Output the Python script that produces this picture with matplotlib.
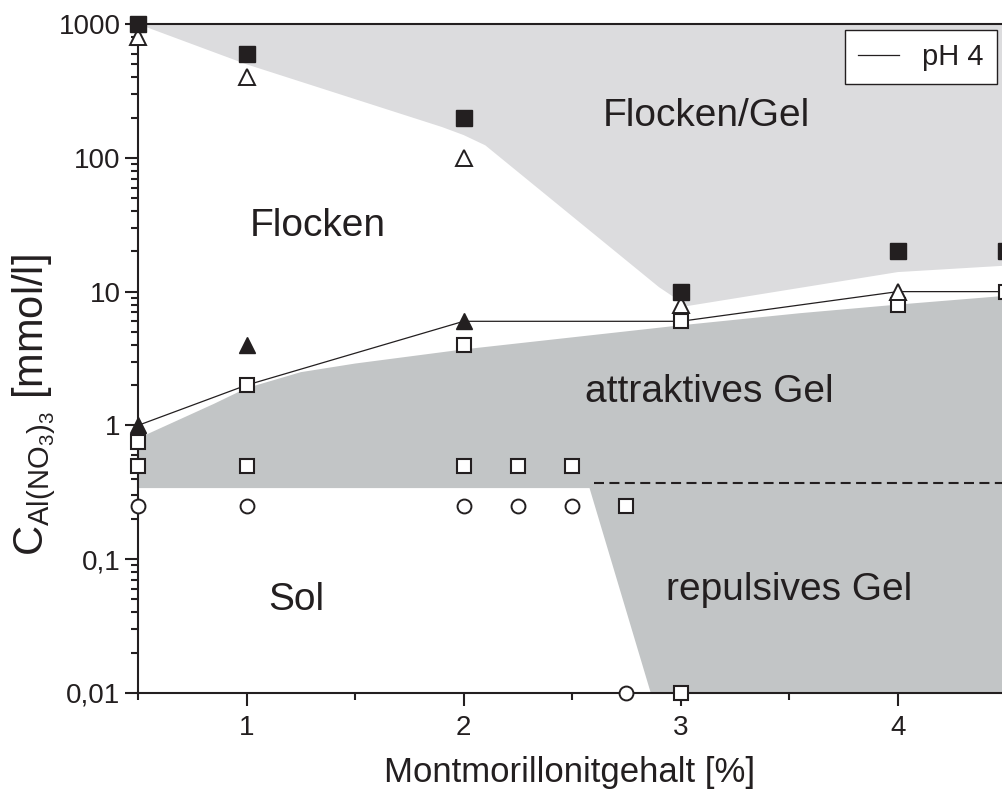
import matplotlib.pyplot as plt
from matplotlib.patches import Polygon
from matplotlib.ticker import FixedLocator, NullFormatter, LogLocator

plt.rcParams["font.family"] = ["Liberation Sans", "DejaVu Sans"]
plt.rcParams["mathtext.fontset"] = "custom"
plt.rcParams["mathtext.rm"] = "Liberation Sans"
plt.rcParams["mathtext.it"] = "Liberation Sans:italic"

ink = "#231f20"
light_gray = "#dcdcde"
dark_gray = "#c2c5c6"

# --- measured series (Montmorillonit %, Al(NO3)3 mmol/l) ---
sq_fill_x = [0.5, 1, 2, 3, 4, 4.5]
sq_fill_y = [1000, 600, 200, 10, 20, 20]
tri_open_x = [0.5, 1, 2, 3, 4]
tri_open_y = [800, 400, 100, 8, 10]
tri_fill_x = [0.5, 1, 2]
tri_fill_y = [1, 4, 6]
sq_open_x = [0.5, 0.5, 1, 1, 2, 2, 2.25, 2.5, 2.75, 3, 3, 4, 4.5]
sq_open_y = [0.75, 0.5, 2, 0.5, 4, 0.5, 0.5, 0.5, 0.25, 6, 0.01, 8, 10]
circ_x = [0.5, 1, 2, 2.25, 2.5, 2.75]
circ_y = [0.25, 0.25, 0.25, 0.25, 0.25, 0.01]

# pH 4 boundary line
ph4_x = [0.5, 1, 2, 3, 4, 4.5]
ph4_y = [1, 2, 6, 6, 10, 10]

# phase regions
floc_gel_x = [0.5, 1.0, 1.7, 1.9, 2.0, 2.1, 2.9, 3.03, 4.0, 4.6, 4.6]
floc_gel_y = [1000, 500, 216, 170, 148, 124, 10.8, 7.8, 14, 16, 1000]
gel_x = [0.5, 0.85, 1.0, 1.25, 1.5, 2.0, 3.0, 3.55, 4.0, 4.6, 4.6, 2.88, 2.58, 0.5]
gel_y = [0.8, 1.45, 1.9, 2.5, 2.9, 3.7, 5.6, 6.9, 8.0, 9.6, 0.008, 0.008, 0.34, 0.34]
split_x = [2.6, 4.6]
split_y = [0.37, 0.37]

y_ticks = [0.01, 0.1, 1, 10, 100, 1000]
y_labels = ["0,01", "0,1", "1", "10", "100", "1000"]
x_ticks = [1, 2, 3, 4]
x_minor = [0.5, 1.5, 2.5, 3.5, 4.5]

fig = plt.figure(figsize=(10.02, 7.96), dpi=100)
ax = fig.add_axes([0.1377, 0.1294, 0.8623, 0.8404])
ax.set_yscale("log")
ax.set_xlim(0.5, 4.48)
ax.set_ylim(0.01, 1000)

ax.add_patch(Polygon(list(zip(floc_gel_x, floc_gel_y)), closed=True,
                     facecolor=light_gray, edgecolor="none", zorder=0))
ax.add_patch(Polygon(list(zip(gel_x, gel_y)), closed=True,
                     facecolor=dark_gray, edgecolor="none", zorder=0))
ax.plot(split_x, split_y, color=ink, lw=1.5, ls=(0, (4.8, 2.6)), zorder=1)

ax.plot(ph4_x, ph4_y, color=ink, lw=0.9, label="pH 4", zorder=2)

mk = dict(ls="none", clip_on=False, zorder=4, color=ink)
ax.plot(sq_open_x, sq_open_y, marker="s", ms=10.5, mfc="white", mec=ink, mew=1.5, **mk)
ax.plot(circ_x, circ_y, marker="o", ms=10, mfc="white", mec=ink, mew=1.4, **mk)
ax.plot(tri_open_x, tri_open_y, marker="^", ms=12, mfc="white", mec=ink, mew=1.4, **mk)
ax.plot(tri_fill_x, tri_fill_y, marker="^", ms=12, mfc=ink, mec=ink, mew=1.0, **mk)
ax.plot(sq_fill_x, sq_fill_y, marker="s", ms=11, mfc=ink, mec=ink, mew=1.0, **mk)

# region names
txt = dict(fontsize=28, color=ink, ha="center", va="center")
ax.text(3.12, 205, "Flocken/Gel", **txt)
ax.text(1.33, 31, "Flocken", **txt)
ax.text(3.13, 1.78, "attraktives Gel", **txt)
ax.text(1.23, 0.0495, "Sol", **txt)
ax.text(3.5, 0.059, "repulsives Gel", **txt)

ax.yaxis.set_major_locator(FixedLocator(y_ticks))
ax.set_yticklabels(y_labels)
ax.yaxis.set_minor_locator(LogLocator(base=10, subs=range(2, 10)))
ax.yaxis.set_minor_formatter(NullFormatter())
ax.set_xticks(x_ticks)
ax.xaxis.set_minor_locator(FixedLocator(x_minor))

ax.tick_params(which="major", direction="out", length=9.5, width=1.5,
               colors=ink, labelsize=20)
ax.tick_params(which="minor", direction="out", length=5, width=1.5, colors=ink)
ax.tick_params(axis="x", which="major", pad=6)
ax.tick_params(axis="y", which="major", pad=3)

for side in ["left", "bottom", "top"]:
    ax.spines[side].set_linewidth(1.5)
    ax.spines[side].set_color(ink)
ax.spines["right"].set_visible(False)

ax.set_xlabel("Montmorillonitgehalt [%]", fontsize=25, color=ink, labelpad=11)
ax.set_ylabel(r"C$_{\mathrm{Al(NO_3)_3}}$ [mmol/l]", fontsize=30, color=ink)
ax.yaxis.set_label_coords(-0.093, 0.43)

leg = ax.legend(loc="upper right", bbox_to_anchor=(0.994, 0.991), fontsize=21,
                frameon=True, fancybox=False, framealpha=1, borderaxespad=0,
                handlelength=1.4, handletextpad=0.8, borderpad=0.45)
leg.get_frame().set_edgecolor(ink)
leg.get_frame().set_linewidth(1.0)
for t in leg.get_texts():
    t.set_color(ink)

fig.savefig("out.png", dpi=100)
